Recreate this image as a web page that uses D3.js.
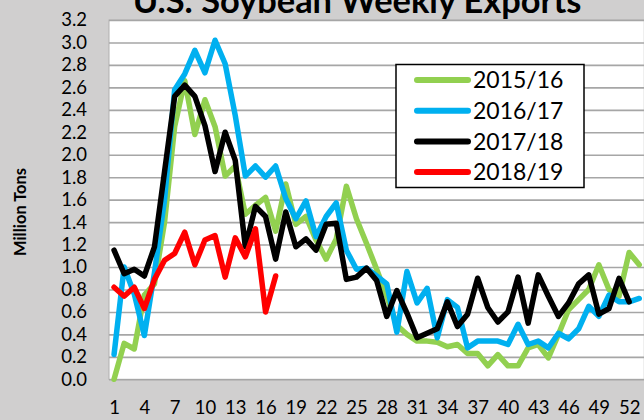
<!doctype html>
<html lang="en">
<head>
<meta charset="utf-8">
<title>U.S. Soybean Weekly Exports</title>
<style>
  body { margin: 0; background: #d0cfcf; }
  svg { display: block; font-family: Lato, "Noto Sans", sans-serif; }
</style>
</head>
<body>
<div id="mychart"></div>
<script src="https://d3js.org/d3.v7.min.js"></script>
<script>
// marketing years, weekly exports (million tons)
var seasons = ["2015/16", "2016/17", "2017/18", "2018/19"];
var colors = ["#92d050", "#00b0f0", "#000000", "#ff0000"];

var exp1516 = [0.00, 0.32, 0.27, 0.75, 0.85, 1.40, 2.25, 2.66, 2.18, 2.49,
  2.25, 1.81, 1.90, 1.47, 1.55, 1.62, 1.32, 1.74, 1.38, 1.45,
  1.24, 1.07, 1.25, 1.72, 1.43, 1.21, 0.98, 0.74, 0.48, 0.40,
  0.34, 0.34, 0.33, 0.29, 0.31, 0.23, 0.23, 0.12, 0.22, 0.12,
  0.12, 0.28, 0.31, 0.19, 0.40, 0.62, 0.71, 0.80, 1.02, 0.80,
  0.74, 1.13, 1.02];
var exp1617 = [0.22, 1.00, 0.76, 0.39, 0.95, 1.60, 2.58, 2.72, 2.93, 2.73,
  3.02, 2.81, 2.35, 1.81, 1.90, 1.80, 1.90, 1.61, 1.43, 1.59,
  1.27, 1.45, 1.57, 1.15, 0.98, 0.99, 0.92, 0.85, 0.42, 0.96,
  0.68, 0.81, 0.37, 0.71, 0.64, 0.28, 0.34, 0.34, 0.34, 0.31,
  0.49, 0.31, 0.34, 0.28, 0.41, 0.36, 0.45, 0.65, 0.56, 0.75,
  0.69, 0.69, 0.72];
var exp1718 = [1.15, 0.94, 0.98, 0.92, 1.18, 1.85, 2.52, 2.62, 2.52, 2.26,
  1.85, 2.20, 1.95, 1.18, 1.54, 1.45, 1.07, 1.49, 1.18, 1.25,
  1.15, 1.38, 1.39, 0.89, 0.91, 0.99, 0.88, 0.56, 0.79, 0.59,
  0.37, 0.41, 0.45, 0.69, 0.47, 0.58, 0.90, 0.64, 0.51, 0.60,
  0.91, 0.50, 0.93, 0.74, 0.56, 0.68, 0.85, 0.93, 0.58, 0.63,
  0.90, 0.69];
var exp1819 = [0.82, 0.74, 0.82, 0.63, 0.89, 1.06, 1.12, 1.31, 1.02, 1.24,
  1.28, 0.91, 1.26, 1.09, 1.34, 0.60, 0.92];

var weekTicks = [1, 4, 7, 10, 13, 16, 19, 22, 25, 28, 31, 34, 37, 40, 43, 46, 49, 52];
var yTicks = [0, 0.2, 0.4, 0.6, 0.8, 1.0, 1.2, 1.4, 1.6, 1.8, 2.0, 2.2, 2.4, 2.6, 2.8, 3.0, 3.2];

var series = [exp1516, exp1617, exp1718, exp1819];

var width = 644;
var height = 420;
var plotLeft = 109, plotTop = 20, plotBottom = 379.3;
var step = 10.1;
var nWeeks = 53;

var svg = d3.select("#mychart").append("svg")
  .attr("width", width)
  .attr("height", height);

svg.append("rect")
  .attr("width", width).attr("height", height)
  .attr("fill", "#d0cfcf");

var x = d3.scaleLinear()
  .domain([0.5, nWeeks + 0.5])
  .range([plotLeft, plotLeft + nWeeks * step]);

var y = d3.scaleLinear()
  .domain([0, 3.2])
  .range([plotBottom, plotTop]);

// plot area
svg.append("rect")
  .attr("x", x(0.5)).attr("y", y(3.2))
  .attr("width", x(nWeeks + 0.5) - x(0.5))
  .attr("height", y(0) - y(3.2))
  .attr("fill", "#ffffff")
  .attr("stroke", "#b0b0b0")
  .attr("stroke-width", 1);

// grid lines
var grid = svg.append("g")
  .attr("transform", "translate(" + plotLeft + ",0)")
  .call(d3.axisLeft(y).tickValues(yTicks).tickSize(-(x(nWeeks + 0.5) - plotLeft)).tickFormat(""));
grid.select(".domain").remove();
grid.selectAll("line").attr("stroke", "#a6a6a6").attr("stroke-width", 1.6);

// y labels
var yAxis = svg.append("g")
  .attr("transform", "translate(87,0)")
  .call(d3.axisLeft(y).tickValues(yTicks).tickSize(0).tickPadding(0).tickFormat(d3.format(".1f")));
yAxis.select(".domain").remove();
yAxis.selectAll("text")
  .attr("font-family", "Lato, sans-serif")
  .attr("font-size", 18.5)
  .attr("fill", "#000");

// x labels
var xAxis = svg.append("g")
  .attr("transform", "translate(0,401)")
  .call(d3.axisBottom(x).tickValues(weekTicks).tickSize(0).tickPadding(0).tickFormat(d3.format("d")));
xAxis.select(".domain").remove();
xAxis.selectAll("text")
  .attr("font-family", "Lato, sans-serif")
  .attr("font-size", 18.5)
  .attr("fill", "#000");

// lines
var line = d3.line()
  .x(function(d, i) { return x(i + 1); })
  .y(function(d) { return y(d); });

svg.append("defs").append("clipPath").attr("id", "clip")
  .append("rect").attr("x", plotLeft).attr("y", 0).attr("width", width - plotLeft).attr("height", height);

svg.append("g").attr("clip-path", "url(#clip)")
  .selectAll("path").data(series)
  .enter()
  .append("path")
  .attr("d", line)
  .attr("fill", "none")
  .attr("stroke", function(d, i) { return colors[i]; })
  .attr("stroke-width", 5.5)
  .attr("stroke-linejoin", "round")
  .attr("stroke-linecap", "round");

// title
var title = svg.append("text")
  .attr("x", 357)
  .attr("y", 13)
  .attr("text-anchor", "middle")
  .attr("font-family", "Lato, sans-serif")
  .attr("font-weight", "bold")
  .attr("font-size", 28)
  .attr("fill", "#000")
  .text("U.S. Soybean Weekly Exports");
var tw = title.node().getComputedTextLength();
title.attr("font-size", 28 * 449 / tw);

// y title
var yTitle = svg.append("text")
  .attr("transform", "translate(26,212) rotate(-90)")
  .attr("text-anchor", "middle")
  .attr("font-family", "Lato, sans-serif")
  .attr("font-weight", "bold")
  .attr("font-size", 16)
  .attr("fill", "#000")
  .text("Million Tons");
var yw = yTitle.node().getComputedTextLength();
yTitle.attr("font-size", Math.min(17, 16 * 88 / yw));

// legend
var legend = svg.append("g");
legend.append("rect")
  .attr("x", 396).attr("y", 64.5)
  .attr("width", 188).attr("height", 123)
  .attr("fill", "#fff")
  .attr("stroke", "#000")
  .attr("stroke-width", 1.5);

var items = legend.selectAll("g.item").data(seasons)
  .enter().append("g")
  .attr("class", "item")
  .attr("transform", function(d, i) { return "translate(0," + (80 + i * 30.7) + ")"; });
items.append("line")
  .attr("x1", 417).attr("x2", 468)
  .attr("stroke", function(d, i) { return colors[i]; })
  .attr("stroke-width", 6)
  .attr("stroke-linecap", "round");
items.append("text")
  .attr("x", 473)
  .attr("dy", "0.36em")
  .attr("font-family", "Lato, sans-serif")
  .attr("font-size", 23)
  .attr("fill", "#000")
  .text(function(d) { return d; });
</script>
</body>
</html>
